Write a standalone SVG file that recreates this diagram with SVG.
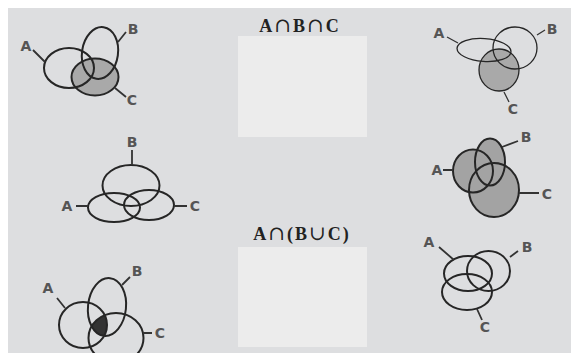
<svg xmlns="http://www.w3.org/2000/svg" width="571" height="353" viewBox="0 0 571 353">
<style>
.e{fill:none;stroke:#262626;stroke-width:2}
.thin{stroke-width:1.3}
.lead{stroke:#333;stroke-width:1.8;fill:none}
.lbl{font-family:"DejaVu Sans","Liberation Sans",sans-serif;font-weight:bold;font-size:14px;fill:#555;text-anchor:middle;dominant-baseline:central}
.ttl{font-family:"Liberation Serif","DejaVu Serif",serif;font-weight:bold;font-size:18px;fill:#222;text-anchor:middle;letter-spacing:2px}
.box{fill:#ececec}
</style>
<rect width="571" height="353" fill="#ffffff"/>
<rect x="8" y="8" width="563" height="345" fill="#dddee0"/>

<g id="box1">
<text class="ttl" x="300" y="32"><tspan>A</tspan><tspan font-family="DejaVu Serif" font-weight="normal" font-size="20">∩</tspan><tspan>B</tspan><tspan font-family="DejaVu Serif" font-weight="normal" font-size="20">∩</tspan><tspan>C</tspan></text>
<rect class="box" x="238" y="36" width="129" height="101"/>
</g>
<g id="box2">
<text class="ttl" x="302" y="240"><tspan>A</tspan><tspan font-family="DejaVu Serif" font-weight="normal" font-size="20">∩</tspan><tspan>(B</tspan><tspan font-family="DejaVu Serif" font-weight="normal" font-size="20">∪</tspan><tspan>C)</tspan></text>
<rect class="box" x="238" y="247" width="129" height="100"/>
</g>

<g id="venn1">
<ellipse cx="95" cy="77" rx="23.5" ry="18.5" fill="#a9a9a9"/>
<ellipse class="e" cx="69" cy="68" rx="25" ry="20"/>
<ellipse class="e" cx="100" cy="53" rx="18" ry="26" transform="rotate(8 100 53)"/>
<ellipse class="e" cx="95" cy="77" rx="23.5" ry="18.5"/>
<path class="lead" d="M33 50L45 62M118 42L126 32M115 88L126 97"/>
<text class="lbl" x="26" y="46">A</text>
<text class="lbl" x="133" y="29">B</text>
<text class="lbl" x="132" y="100">C</text>
</g>

<g id="venn2">
<ellipse class="e" cx="131" cy="185.5" rx="28.5" ry="20.5"/>
<ellipse class="e" cx="114" cy="207.5" rx="26" ry="14.5"/>
<ellipse class="e" cx="149" cy="205" rx="25" ry="15"/>
<path class="lead" d="M132 150V165M76 206H88M174 206H187"/>
<text class="lbl" x="132" y="142">B</text>
<text class="lbl" x="67" y="206">A</text>
<text class="lbl" x="195" y="206">C</text>
</g>

<g id="venn3">
<clipPath id="cA"><ellipse cx="83" cy="325" rx="24" ry="23"/></clipPath>
<clipPath id="cB"><ellipse cx="107" cy="307" rx="19" ry="29" transform="rotate(6 107 307)"/></clipPath>
<g clip-path="url(#cA)"><g clip-path="url(#cB)"><ellipse cx="116" cy="338" rx="27.5" ry="25" fill="#333"/></g></g>
<ellipse class="e" cx="83" cy="325" rx="24" ry="23"/>
<ellipse class="e" cx="107" cy="307" rx="19" ry="29" transform="rotate(6 107 307)"/>
<ellipse class="e" cx="116" cy="338" rx="27.5" ry="25"/>
<path class="lead" d="M57 298L65 308M122 285L130 277M143 333H152"/>
<text class="lbl" x="48" y="288">A</text>
<text class="lbl" x="137" y="271">B</text>
<text class="lbl" x="160" y="333">C</text>
</g>

<g id="venn4">
<ellipse cx="499" cy="70" rx="20" ry="21" fill="#a9a9a9"/>
<ellipse class="e thin" cx="484" cy="50" rx="27" ry="11.5" transform="rotate(4 484 50)"/>
<ellipse class="e thin" cx="515" cy="48" rx="22" ry="21"/>
<ellipse class="e thin" cx="499" cy="70" rx="20" ry="21"/>
<path class="lead" style="stroke-width:1.3" d="M447 37L458 43M537 35L545 30M504 92L509 102"/>
<text class="lbl" x="439" y="33">A</text>
<text class="lbl" x="552" y="29">B</text>
<text class="lbl" x="513" y="109">C</text>
</g>

<g id="venn5">
<ellipse cx="473" cy="171" rx="20" ry="21.5" fill="#a3a3a3"/>
<ellipse cx="490" cy="162" rx="15" ry="23.5" fill="#a3a3a3"/>
<ellipse cx="494" cy="190" rx="25" ry="27" fill="#a3a3a3"/>
<ellipse class="e" cx="473" cy="171" rx="20" ry="21.5"/>
<ellipse class="e" cx="490" cy="162" rx="15" ry="23.5"/>
<ellipse class="e" cx="494" cy="190" rx="25" ry="27"/>
<path class="lead" d="M443 170H453M502 147L518 141M519 193H539"/>
<text class="lbl" x="437" y="170">A</text>
<text class="lbl" x="526" y="137">B</text>
<text class="lbl" x="547" y="194">C</text>
</g>

<g id="venn6">
<ellipse class="e" cx="468" cy="273.5" rx="24" ry="17.5"/>
<ellipse class="e" cx="488.5" cy="271" rx="21.5" ry="20"/>
<ellipse class="e" cx="467" cy="292" rx="25" ry="18"/>
<path class="lead" d="M439 247L454 260M510 257L518 251M477 309L482 320"/>
<text class="lbl" x="429" y="242">A</text>
<text class="lbl" x="527" y="247">B</text>
<text class="lbl" x="485" y="327">C</text>
</g>
</svg>
